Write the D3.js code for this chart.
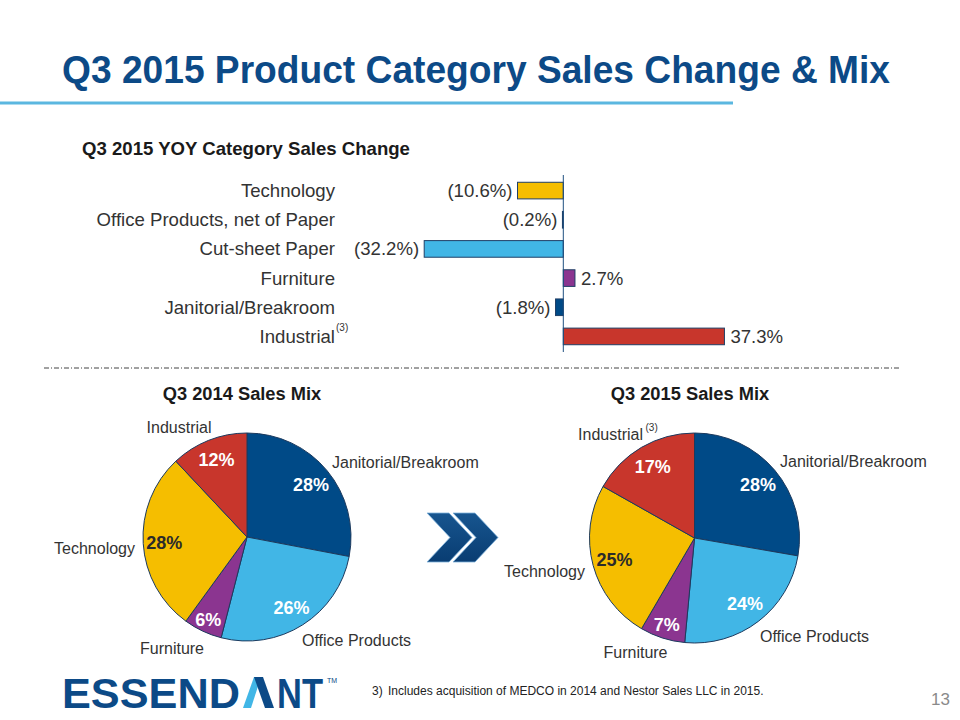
<!DOCTYPE html>
<html><head><meta charset="utf-8">
<script src="https://cdn.jsdelivr.net/npm/d3@7"></script>
<style>body{margin:0;background:#fff}svg{display:block;font-family:"Liberation Sans",Arial,sans-serif}</style>
</head><body><svg id="c" width="960" height="720"></svg>
<script>
// ---------- DATA ----------
const barCategories = ["Technology","Office Products, net of Paper","Cut-sheet Paper","Furniture","Janitorial/Breakroom","Industrial"];
const barValues = [-10.6, -0.2, -32.2, 2.7, -1.8, 37.3];
const barLabels = ["(10.6%)","(0.2%)","(32.2%)","2.7%","(1.8%)","37.3%"];

const pieCategories = ["Janitorial/Breakroom","Office Products","Furniture","Technology","Industrial"];
const pie2014Values = [28, 26, 6, 28, 12];
const pie2015Values = [28, 24, 7, 25, 17];
const pie2014Labels = ["28%","26%","6%","28%","12%"];
const pie2015Labels = ["28%","24%","7%","25%","17%"];

// ---------- STYLE ----------
const C = {navy:"#0c4a87", dark:"#004a87", light:"#41b6e6", purple:"#8b3590", yellow:"#f5be00", red:"#c8362c", text:"#333333"};
const barColor = d3.scaleOrdinal().domain(barCategories)
  .range([C.yellow, C.dark, C.light, C.purple, C.dark, C.red]);
const pieColor = d3.scaleOrdinal().domain(pieCategories)
  .range([C.dark, C.light, C.purple, C.yellow, C.red]);

const svg = d3.select("#c");

// ---------- TITLE ----------
svg.append("text").attr("x", 62).attr("y", 83)
  .attr("font-size", 38).attr("font-weight", "bold").attr("fill", C.navy)
  .attr("textLength", 828).attr("lengthAdjust", "spacingAndGlyphs")
  .text("Q3 2015 Product Category Sales Change & Mix");
svg.append("line").attr("x1", 0).attr("x2", 733).attr("y1", 103).attr("y2", 103)
  .attr("stroke", "#5bb7e0").attr("stroke-width", 3);

// ---------- BAR CHART ----------
svg.append("text").attr("x", 82).attr("y", 155).attr("font-size", 18.6)
  .attr("font-weight", "bold").attr("fill", "#1a1a1a")
  .text("Q3 2015 YOY Category Sales Change");

const x = d3.scaleLinear().domain([-40, 40]).range([563.3 - 172.8, 563.3 + 172.8]);
const y = d3.scaleBand().domain(barCategories).range([176, 351]).paddingInner(0.43).paddingOuter(0.215);

const rows = barCategories.map((c, i) => ({cat: c, v: barValues[i], lab: barLabels[i]}));
const bars = svg.append("g");
bars.selectAll("rect").data(rows).join("rect")
  .attr("x", d => x(Math.min(0, d.v)))
  .attr("width", d => Math.abs(x(d.v) - x(0)))
  .attr("y", d => y(d.cat))
  .attr("height", y.bandwidth())
  .attr("fill", d => barColor(d.cat))
  .attr("stroke", "#1f3f66").attr("stroke-width", 1);

bars.selectAll("text.cat").data(rows).join("text").attr("class", "cat")
  .attr("x", 335).attr("y", d => y(d.cat) + y.bandwidth() / 2 + 6.5)
  .attr("text-anchor", "end").attr("font-size", 18.6).attr("fill", C.text)
  .text(d => d.cat);
bars.selectAll("text.val").data(rows).join("text").attr("class", "val")
  .attr("x", d => d.v < 0 ? x(d.v) - 5 : x(d.v) + 6)
  .attr("y", d => y(d.cat) + y.bandwidth() / 2 + 6.5)
  .attr("text-anchor", d => d.v < 0 ? "end" : "start")
  .attr("font-size", 18.6).attr("fill", C.text)
  .text(d => d.lab);
// superscript (3) after Industrial
svg.append("text").attr("x", 336).attr("y", y("Industrial") + y.bandwidth() / 2 - 5)
  .attr("font-size", 10).attr("fill", C.text).text("(3)");

svg.append("line").attr("x1", x(0)).attr("x2", x(0)).attr("y1", 175).attr("y2", 352)
  .attr("stroke", "#1f4f80").attr("stroke-width", 1);

// separator
svg.append("line").attr("x1", 44).attr("x2", 900).attr("y1", 368).attr("y2", 368)
  .attr("stroke", "#444").attr("stroke-width", 1).attr("stroke-dasharray", "5,2,1,2");

// ---------- PIES ----------
const pieGen = d3.pie().sort(null).value(d => d.v);

function drawPie(cx, cy, r, values, labels, title, titleX, ext) {
  const g = svg.append("g").attr("transform", `translate(${cx},${cy})`);
  const data = pieCategories.map((c, i) => ({cat: c, v: values[i], lab: labels[i]}));
  const arcs = pieGen(data);
  const arc = d3.arc().innerRadius(0).outerRadius(r);
  g.selectAll("path").data(arcs).join("path")
    .attr("d", arc).attr("fill", d => pieColor(d.data.cat))
    .attr("stroke", "#1c3a5e").attr("stroke-width", 1);
  g.selectAll("text.pct").data(arcs).join("text").attr("class", "pct")
    .each(function(d) {
      const share = (d.endAngle - d.startAngle) / (2 * Math.PI);
      const lr = share < 0.1 ? 91 : 83;
      const a = (d.startAngle + d.endAngle) / 2;
      d3.select(this).attr("x", lr * Math.sin(a)).attr("y", -lr * Math.cos(a) + 6.5);
    })
    .attr("text-anchor", "middle").attr("font-size", 18).attr("font-weight", "bold")
    .attr("fill", d => d.data.cat === "Technology" ? "#2b2b2b" : "#ffffff")
    .text(d => d.data.lab);
  pieCategories.forEach((c) => {
    const e = ext[c];
    g.append("text").attr("x", e[0]).attr("y", e[1]).attr("text-anchor", e[2])
      .attr("font-size", 16).attr("fill", C.text).text(c);
  });
  svg.append("text").attr("x", titleX).attr("y", 400).attr("text-anchor", "middle")
    .attr("font-size", 18.3).attr("font-weight", "bold").attr("fill", "#1a1a1a").text(title);
  return g;
}

drawPie(247, 537, 104, pie2014Values, pie2014Labels, "Q3 2014 Sales Mix", 242, {
  "Janitorial/Breakroom": [85, -69, "start"],
  "Office Products": [55, 109, "start"],
  "Furniture": [-75, 117, "middle"],
  "Technology": [-112, 17, "end"],
  "Industrial": [-68, -104, "middle"]
});
const g2 = drawPie(694.5, 538, 105, pie2015Values, pie2015Labels, "Q3 2015 Sales Mix", 690, {
  "Janitorial/Breakroom": [85.5, -71, "start"],
  "Office Products": [65.5, 104, "start"],
  "Furniture": [-59, 120, "middle"],
  "Technology": [-109.5, 39, "end"],
  "Industrial": [-51.5, -98, "end"]
});
g2.append("text").attr("x", -49).attr("y", -107).attr("font-size", 10).attr("fill", C.text).text("(3)");

// ---------- CHEVRONS ----------
const defs = svg.append("defs");
const grad = defs.append("linearGradient").attr("id", "chev").attr("x1", 0).attr("y1", 0).attr("x2", 0).attr("y2", 1);
grad.append("stop").attr("offset", "0%").attr("stop-color", "#17558f");
grad.append("stop").attr("offset", "100%").attr("stop-color", "#093d72");
[0, 26].forEach(dx => {
  const x0 = 427 + dx, t = 513, b = 562, m = (t + b) / 2;
  svg.append("polygon")
    .attr("points", [[x0, t], [x0 + 22, t], [x0 + 45, m], [x0 + 22, b], [x0, b], [x0 + 23, m]].map(p => p.join(",")).join(" "))
    .attr("fill", "url(#chev)").attr("stroke", "#7fb2dc").attr("stroke-width", 0.8);
});

// ---------- FOOTER ----------
const t1 = svg.append("text").attr("x", 0).attr("y", 0).attr("font-size", 43).attr("font-weight", "bold")
  .attr("fill", C.navy).text("ESSEND");
const w1 = t1.node().getComputedTextLength();
t1.attr("transform", `translate(62,708) scale(${178 / w1},1)`);
svg.append("polygon").attr("points", "243,708 254,677 261,677 251,708").attr("fill", C.light);
svg.append("polygon").attr("points", "254,677 263,677 274,708 265,708").attr("fill", C.navy);
const t2 = svg.append("text").attr("x", 0).attr("y", 0).attr("font-size", 43).attr("font-weight", "bold")
  .attr("fill", C.navy).text("NT");
const w2 = t2.node().getComputedTextLength();
t2.attr("transform", `translate(277,708) scale(${46 / w2},1)`);
svg.append("text").attr("x", 327).attr("y", 683).attr("font-size", 7).attr("fill", C.navy).text("TM");

svg.append("text").attr("x", 372).attr("y", 695).attr("font-size", 12).attr("fill", "#222").text("3)");
svg.append("text").attr("x", 388).attr("y", 695).attr("font-size", 12).attr("fill", "#222")
  .text("Includes acquisition of MEDCO in 2014 and Nestor Sales LLC in 2015.");
svg.append("text").attr("x", 950).attr("y", 705).attr("text-anchor", "end").attr("font-size", 17)
  .attr("fill", "#8a8a8a").text("13");
</script></body></html>
